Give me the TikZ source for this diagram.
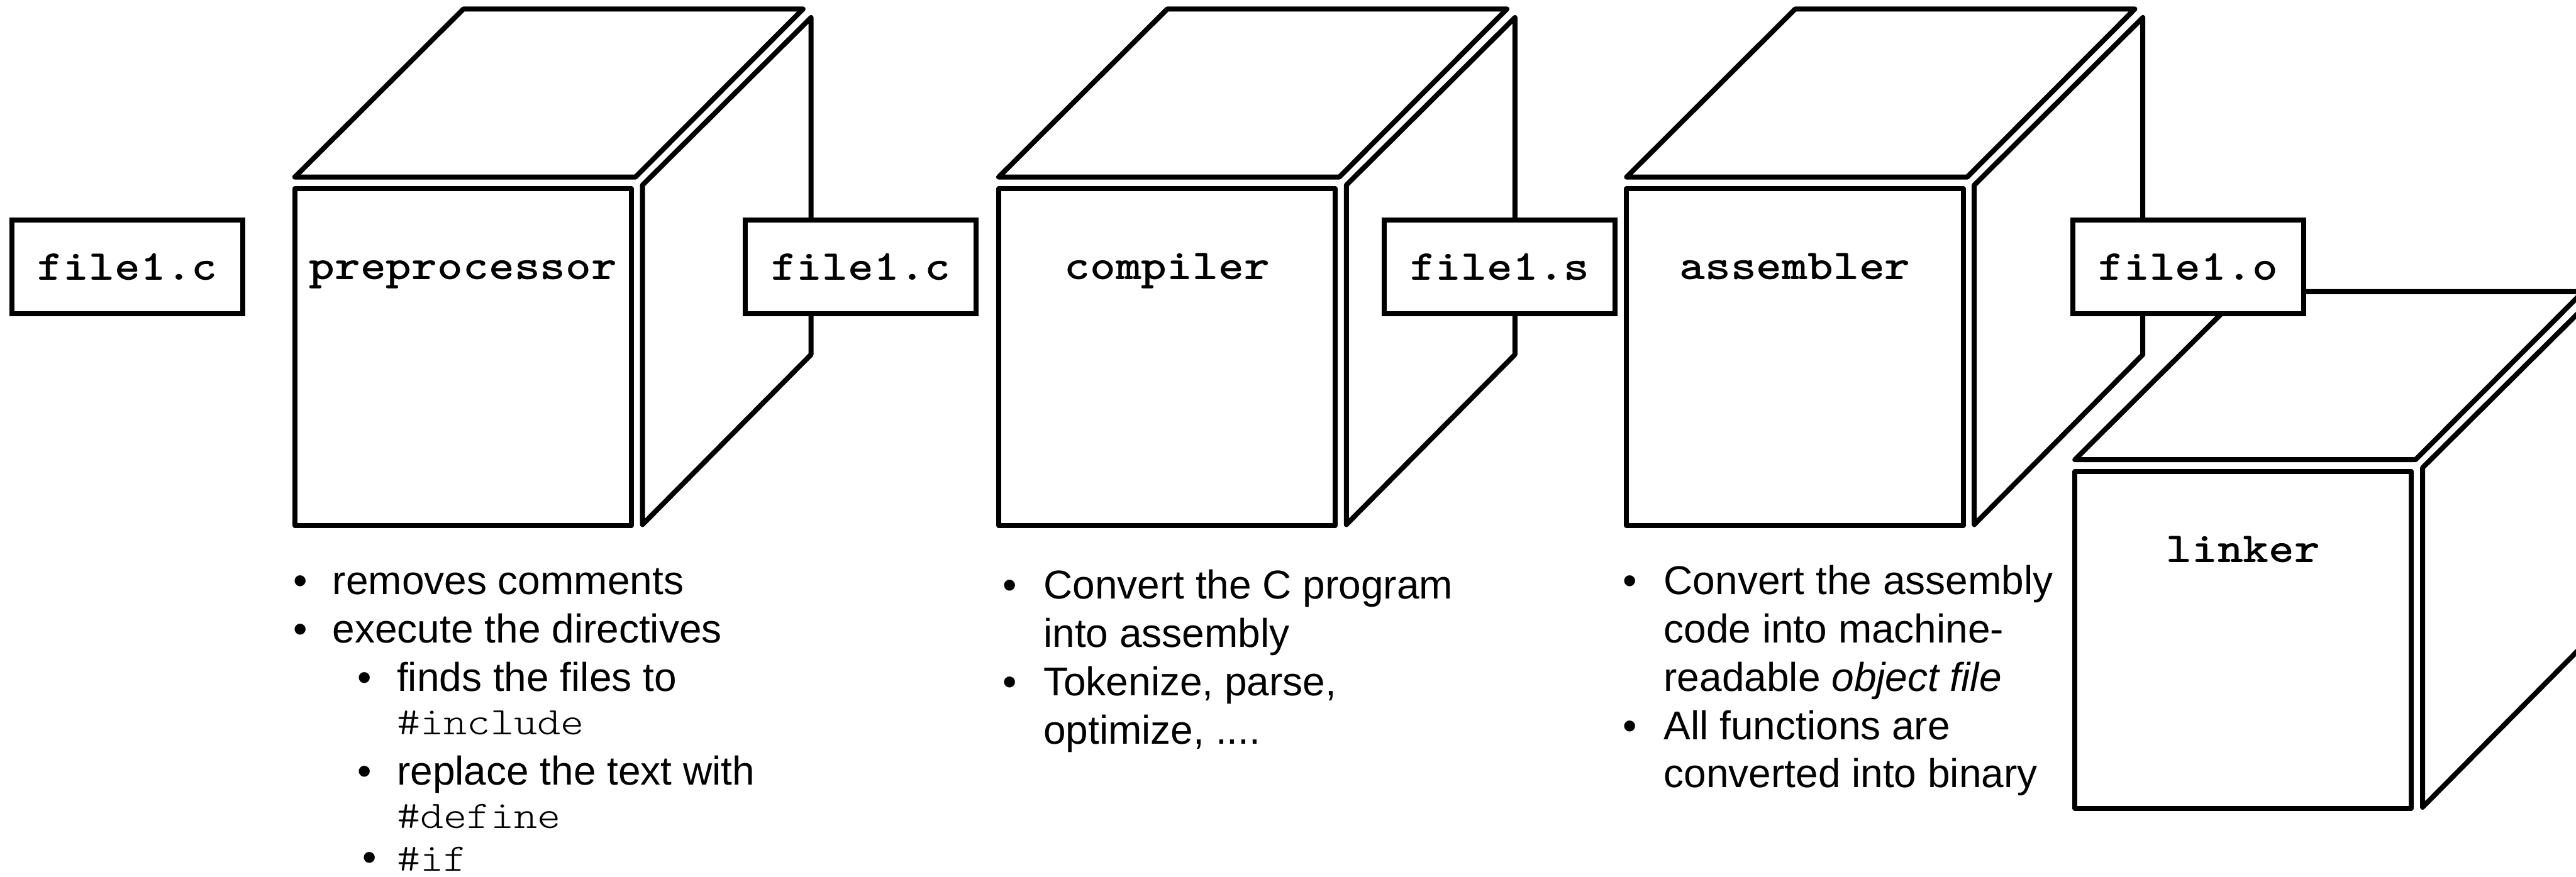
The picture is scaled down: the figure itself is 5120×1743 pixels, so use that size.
\documentclass[tikz,border=0pt]{standalone}
\usepackage{fontspec}
\setmainfont{Liberation Sans}
\newfontfamily\courbold{lmmonolt10-bold.otf}[FakeStretch=1.1429]
\newfontfamily\courlight{lmmonolt10-regular.otf}[FakeStretch=1.1429]
\newcommand\mycube[4]{%
  \draw[face] (#1,{#2-23}) -- ({#1+335},{#2-357}) -- ({#1+1010},{#2-357}) -- ({#1+677},{#2-23}) -- cycle;
  \draw[face] ({#1+691},{#2-7}) -- ({#1+1026},{#2-340}) -- ({#1+1026},{#2+330}) -- ({#1+691},{#2+668}) -- cycle;
  \node[frontbox] (#3) at ({#1+334.5},{#2+335}) {};
  \node[cubelabel] (#3-label) at ({#1+334.5},{#2+181}) {#4};
}
\begin{document}
\begin{tikzpicture}[x=0.2pt,y=-0.2pt,
  face/.style={draw=black, fill=white, line width=2pt, line join=round},
  frontbox/.style={draw=black, fill=white, line width=2pt, line join=round, minimum width=133.8pt, minimum height=134pt, inner sep=0pt},
  filebox/.style={draw=black, fill=white, line width=2pt, minimum width=91.8pt, minimum height=37.2pt, inner sep=0pt, font=\fontsize{17}{20}\selectfont\courbold},
  cubelabel/.style={anchor=base, inner sep=0pt, font=\fontsize{17}{20}\selectfont\courbold},
  txt/.style={anchor=base west, inner sep=0pt, font=\fontsize{16}{19}\selectfont},
  code/.style={anchor=base west, inner sep=0pt, font=\fontsize{15.5}{19}\selectfont\courlight},
  bul/.style={anchor=base, inner sep=0pt, font=\fontsize{16}{19}\selectfont}]
\useasboundingbox (0,0) rectangle (5120,1743);
\clip (0,0) rectangle (5120,1743);
\fill[white] (0,0) rectangle (5120,1743);

% cubes
\mycube{586}{375}{pre}{preprocessor}
\mycube{1985}{375}{comp}{compiler}
\mycube{3233}{375}{asm}{assembler}
\mycube{4124}{937}{link}{linker}

% file boxes
\node[filebox] (f1) at (253.5,531) {file1.c};
\node[filebox] (f2) at (1711,531) {file1.c};
\node[filebox] (f3) at (2981,531) {file1.s};
\node[filebox] (f4) at (4349,531) {file1.o};

% preprocessor notes
\node[bul] (pb1) at (597,1182) {•};
\node[txt] (pt1) at (660,1182) {removes comments};
\node[bul] (pb2) at (597,1278) {•};
\node[txt] (pt2) at (660,1278) {execute the directives};
\node[bul] (pb3) at (724,1374) {•};
\node[txt] (pt3) at (788,1374) {finds the files to};
\node[code] (pt4) at (788,1461) {\#include};
\node[bul] (pb5) at (724,1561) {•};
\node[txt] (pt5) at (788,1561) {replace the text with};
\node[code] (pt6) at (788,1647) {\#define};
\node[bul] (pb7) at (734,1732) {•};
\node[code] (pt7) at (788,1732) {\#if};

% compiler notes
\node[bul] (cb1) at (2007,1191) {•};
\node[txt] (ct1) at (2073,1191) {Convert the C program};
\node[txt] (ct2) at (2073,1287) {into assembly};
\node[bul] (cb3) at (2007,1383) {•};
\node[txt] (ct3) at (2073,1383) {Tokenize, parse,};
\node[txt] (ct4) at (2073,1479) {optimize, ....};

% assembler notes
\node[bul] (ab1) at (3240,1182) {•};
\node[txt] (at1) at (3306,1182) {Convert the assembly};
\node[txt] (at2) at (3306,1278) {code into machine-};
\node[txt] (at3) at (3306,1374) {readable \textit{object file}};
\node[bul] (ab4) at (3240,1470) {•};
\node[txt] (at4) at (3306,1470) {All functions are};
\node[txt] (at5) at (3306,1566) {converted into binary};
\end{tikzpicture}
\end{document}
